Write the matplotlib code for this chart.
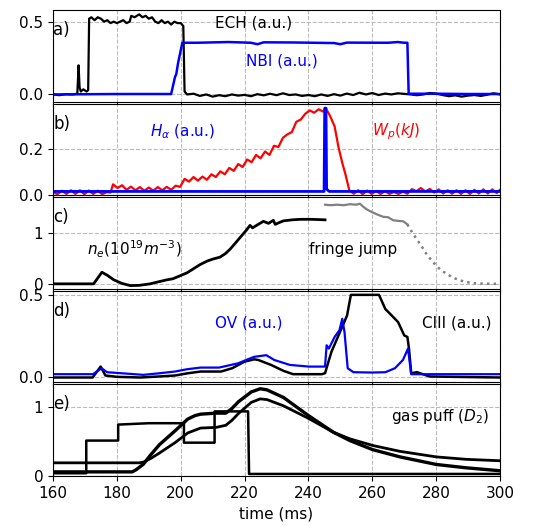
import matplotlib
matplotlib.use("Agg")
import matplotlib.pyplot as plt

# ---- panel a: heating ----
ech_t = [160, 162, 164, 166, 167.6, 168.0, 168.3, 168.7, 169.5, 170.5, 171.0, 171.3, 172, 173, 174, 175,
         176, 177, 178, 179, 180, 181, 182, 183, 184, 184.5, 185.5, 187, 188, 189, 190, 191, 192, 193,
         194, 195, 196, 197, 198, 199, 200, 200.8, 201.2, 202, 204, 206, 208, 210, 212, 214, 216, 218,
         220, 222, 224, 226, 228, 230, 232, 234, 236, 238, 240, 242, 244, 246, 248, 250, 252, 254, 256,
         258, 260, 262, 264, 266, 268, 270, 272, 274, 276, 278, 280, 282, 284, 286, 288, 290, 292, 294,
         296, 298, 300]
ech_v = [0.0, -0.005, 0.002, 0.0, 0.005, 0.20, 0.05, 0.02, 0.035, 0.02, 0.03, 0.52, 0.53, 0.51, 0.53, 0.52,
         0.50, 0.51, 0.49, 0.50, 0.49, 0.50, 0.51, 0.49, 0.50, 0.54, 0.53, 0.55, 0.53, 0.54, 0.52, 0.53, 0.50,
         0.49, 0.51, 0.49, 0.50, 0.48, 0.50, 0.49, 0.49, 0.47, 0.02, 0.0, 0.005, -0.01, 0.0, -0.015, -0.005,
         -0.012, 0.0, -0.008, -0.003, -0.012, 0.002, -0.006, 0.005, -0.005, 0.008, -0.004, 0.0, -0.01, -0.004,
         -0.012, 0.0, -0.01, 0.002, -0.008, 0.006, -0.004, 0.012, 0.0, 0.01, -0.004, 0.006, 0.0, 0.008, 0.004,
         0.0, -0.005, 0.0, 0.01, 0.006, -0.004, -0.012, -0.006, -0.015, -0.008, -0.004, -0.01, -0.002, 0.008,
         0.0]
nbi_t = [160, 180, 197.0, 198.2, 198.6, 199.2, 200.5, 205, 215, 222, 224, 226, 235, 248, 250, 252, 265,
         268, 270, 271.0, 271.4, 280, 290, 300]
nbi_v = [0.0, 0.003, 0.003, 0.12, 0.14, 0.22, 0.355, 0.355, 0.36, 0.355, 0.345, 0.358, 0.357, 0.353,
         0.345, 0.356, 0.355, 0.36, 0.355, 0.355, 0.005, 0.005, 0.003, 0.003]

# ---- panel b: stored energy and H-alpha ----
wp_t = [160, 161.4, 162.8, 164.2, 165.6, 167, 168.4, 169.8, 171.2, 172.6, 174, 175.4, 176.8, 178, 178.8,
        180.2, 181.6, 183, 184.4, 185.8, 187.2, 188.6, 190, 191.4, 192.8, 194.2, 195.6, 197, 198.4, 199.8,
        201.2, 202.6, 204, 205.4, 206.8, 208.2, 209.6, 211, 212.4, 213.8, 215.2, 216.6, 218, 219.4, 220.8,
        222.2, 223.6, 225, 226.4, 227.8, 229.2, 230.6, 232, 233.4, 234.8, 236.2, 237.6, 239, 240.4, 241.8,
        243.2, 244.6, 245.5, 246.8, 248.2, 249.4, 250.6, 251.6, 252.8, 254.2, 255.6, 257, 258.4, 259.8,
        261.2, 262.6, 264, 265.4, 266.8, 268.2, 269.6, 271, 272.4, 273.8, 275.2, 276.6, 278, 279.4, 280.8,
        282.2, 283.6, 285, 286.4, 287.8, 289.2, 290.6, 292, 293.4, 294.8, 296.2, 297.6, 299, 300]
wp_v = [0.012, 0.003, 0.018, 0.004, 0.02, 0.004, 0.02, 0.003, 0.019, 0.004, 0.018, 0.003, 0.012, 0.01,
        0.046, 0.03, 0.042, 0.022, 0.036, 0.02, 0.034, 0.018, 0.032, 0.018, 0.034, 0.02, 0.035, 0.022,
        0.04, 0.035, 0.07, 0.058, 0.078, 0.062, 0.08, 0.066, 0.09, 0.078, 0.103, 0.09, 0.118, 0.105, 0.135,
        0.122, 0.155, 0.143, 0.175, 0.16, 0.19, 0.175, 0.215, 0.21, 0.25, 0.265, 0.275, 0.32, 0.33, 0.355,
        0.37, 0.36, 0.375, 0.365, 0.378, 0.345, 0.3, 0.21, 0.14, 0.09, 0.02, 0.005, 0.02, 0.003, 0.019,
        0.004, 0.017, 0.004, 0.016, 0.004, 0.013, 0.004, 0.014, 0.005, 0.025, 0.016, 0.03, 0.015, 0.026,
        0.01, 0.024, 0.006, 0.02, 0.005, 0.02, 0.004, 0.02, 0.004, 0.022, 0.006, 0.024, 0.006, 0.024, 0.008,
        0.022]
ha_t = [160, 244.9, 245.1, 245.5, 245.7, 246.5, 300]
ha_v = [0.015, 0.015, 0.38, 0.38, 0.025, 0.015, 0.015]

# ---- panel c: line density ----
ne_t = [160, 172.7, 175.3, 177, 179, 181.5, 184.2, 187, 190.4, 193, 195.7, 197.5, 199.8, 202, 204, 206,
        208.2, 210, 212.3, 214, 215.5, 217, 218.6, 220.5, 221.7, 222.5, 224, 225.9, 227.5, 229, 229.6,
        231, 232.2, 235, 237.4, 241, 245.2]
ne_v = [0.0, 0.0, 0.23, 0.17, 0.08, 0.01, -0.035, -0.03, 0.0, 0.04, 0.08, 0.1, 0.16, 0.22, 0.3, 0.38,
        0.45, 0.49, 0.53, 0.6, 0.69, 0.8, 0.92, 1.06, 1.16, 1.11, 1.17, 1.24, 1.2, 1.26, 1.18, 1.22, 1.25,
        1.27, 1.28, 1.28, 1.27]
fj_t = [245.2, 247, 249, 251, 253, 255, 256.1, 257, 258.2, 260, 261.4, 263.4, 265, 266.6, 268, 269.7, 271]
fj_v = [1.57, 1.56, 1.57, 1.56, 1.58, 1.57, 1.59, 1.54, 1.48, 1.42, 1.38, 1.33, 1.32, 1.26, 1.25, 1.24, 1.18]
fj_tail_t = [271, 271.8, 273.9, 275.5, 277, 278.5, 280.1, 281.5, 283.3, 285, 287.4, 289.5, 291.6, 294, 297, 300]
fj_tail_v = [1.18, 1.09, 0.89, 0.74, 0.59, 0.47, 0.36, 0.27, 0.2, 0.13, 0.07, 0.035, 0.013, 0.005, 0.0, 0.0]

# ---- panel d: impurity lines ----
ov_t = [160, 172.5, 175.2, 176.9, 182, 188.3, 193, 198.2, 202, 206.2, 212, 218, 221, 223, 226.8, 229.3,
        234.2, 240.2, 245.2, 245.7, 246.4, 248.2, 249.7, 250.6, 251.3, 252.3, 254.1, 260, 264.1, 267.1,
        269.6, 271.2, 272.2, 280, 300]
ov_v = [0.02, 0.02, 0.056, 0.032, 0.025, 0.016, 0.025, 0.036, 0.05, 0.06, 0.06, 0.086, 0.11, 0.125, 0.135,
        0.106, 0.076, 0.066, 0.066, 0.195, 0.175, 0.245, 0.285, 0.355, 0.275, 0.056, 0.032, 0.03, 0.032,
        0.056, 0.106, 0.175, 0.02, 0.02, 0.02]
ciii_t = [160, 172.4, 174.9, 176.4, 180, 187.3, 193, 198.2, 202, 206.2, 212.6, 216.1, 220, 223, 224.3,
          228.3, 232.2, 235.2, 244.2, 245.2, 247.2, 250.1, 252.1, 253.3, 262.1, 264.1, 266.1, 268.1, 270,
          271, 271.5, 272.2, 274, 278, 300]
ciii_v = [0.0, 0.0, 0.066, 0.012, 0.004, 0.0, 0.006, 0.012, 0.025, 0.036, 0.036, 0.056, 0.096, 0.11, 0.106,
          0.076, 0.04, 0.02, 0.02, 0.026, 0.155, 0.285, 0.375, 0.5, 0.5, 0.414, 0.375, 0.335, 0.255, 0.245,
          0.175, 0.026, 0.032, 0.006, 0.0]

# ---- panel e: gas puff and response ----
gp_t = [160, 170.4, 170.4, 180.4, 180.4, 190, 201, 201, 210.6, 210.6, 221.1, 221.4, 300]
gp_v = [0.04, 0.04, 0.51, 0.51, 0.74, 0.76, 0.76, 0.48, 0.48, 0.93, 0.93, 0.03, 0.03]
sa_t = [160, 184.8, 186, 188.3, 190.5, 193.3, 198.2, 202.2, 204.5, 206.2, 211.1, 214.1, 216, 218.1, 222.1,
        224.9, 227, 232.2, 240, 247.8, 253, 260.1, 268.7, 280.1, 289.5, 300]
sa_v = [0.06, 0.06, 0.09, 0.17, 0.3, 0.45, 0.65, 0.82, 0.87, 0.89, 0.905, 0.905, 0.97, 1.07, 1.21, 1.256,
        1.24, 1.13, 0.87, 0.63, 0.51, 0.38, 0.275, 0.166, 0.118, 0.076]
sb_t = [160, 187, 188.3, 190.5, 193.3, 198.2, 202.2, 206.2, 211.1, 214.1, 216, 218.1, 222.1, 224.9, 227,
        232.2, 240, 247.8, 253, 260.1, 268.7, 280.1, 289.5, 300]
sb_v = [0.19, 0.19, 0.2, 0.25, 0.33, 0.48, 0.62, 0.69, 0.70, 0.73, 0.8, 0.9, 1.06, 1.11, 1.1, 1.01, 0.83,
        0.63, 0.535, 0.44, 0.355, 0.275, 0.24, 0.22]

plt.rcParams['font.size'] = 11
fig, axes = plt.subplots(5, 1, sharex=True, figsize=(5.47, 5.26), dpi=100)
fig.subplots_adjust(left=0.097, right=0.914, top=0.981, bottom=0.095, hspace=0.02)

ax = axes[0]
ax.plot(ech_t, ech_v, color='black', lw=1.6)
ax.plot(nbi_t, nbi_v, color='blue', lw=1.8)
ax.set_ylim(-0.05, 0.58)
ax.set_yticks([0.0, 0.5])
ax.text(222.8, 0.49, 'ECH (a.u.)', ha='center', va='center', color='black')
ax.text(231.6, 0.23, 'NBI (a.u.)', ha='center', va='center', color='blue')

ax = axes[1]
ax.plot(wp_t, wp_v, color='red', lw=1.6)
ax.plot(ha_t, ha_v, color='blue', lw=2.0)
ax.set_ylim(-0.002, 0.4)
ax.set_yticks([0.0, 0.2])
ax.text(200.4, 0.275, r'$H_\alpha$ (a.u.)', ha='center', va='center', color='blue')
ax.text(267.6, 0.275, r'$W_p(kJ)$', ha='center', va='center', color='red')

ax = axes[2]
ax.plot(ne_t, ne_v, color='black', lw=2.0)
ax.plot(fj_t, fj_v, color='gray', lw=1.6)
ax.plot(fj_tail_t, fj_tail_v, color='gray', lw=1.8, ls=':')
ax.set_ylim(-0.1, 1.72)
ax.set_yticks([0, 1])
ax.text(185.5, 0.69, r'$n_e(10^{19}m^{-3})$', ha='center', va='center')
ax.text(254, 0.69, 'fringe jump', ha='center', va='center')

ax = axes[3]
ax.plot(ciii_t, ciii_v, color='black', lw=1.8)
ax.plot(ov_t, ov_v, color='blue', lw=1.6)
ax.set_ylim(-0.03, 0.525)
ax.set_yticks([0.0, 0.5])
ax.text(221.2, 0.33, 'OV (a.u.)', ha='center', va='center', color='blue')
ax.text(286.4, 0.33, 'CIII (a.u.)', ha='center', va='center', color='black')

ax = axes[4]
ax.plot(gp_t, gp_v, color='black', lw=1.8)
ax.plot(sa_t, sa_v, color='black', lw=2.4)
ax.plot(sb_t, sb_v, color='black', lw=2.0)
ax.set_ylim(0, 1.32)
ax.set_yticks([0, 1])
ax.text(281.2, 0.86, r'gas puff ($D_2$)', ha='center', va='center')
ax.set_xlabel('time (ms)')

for ax, lab in zip(axes, ['a)', 'b)', 'c)', 'd)', 'e)']):
    ax.grid(True, ls='--', color='#bbbbbb', lw=0.8)
    ax.text(0.0, 0.78, lab, transform=ax.transAxes, ha='left', va='center', fontsize=12)
    ax.set_xlim(160, 300)
axes[4].set_xticks([160, 180, 200, 220, 240, 260, 280, 300])

plt.savefig('out.png')
